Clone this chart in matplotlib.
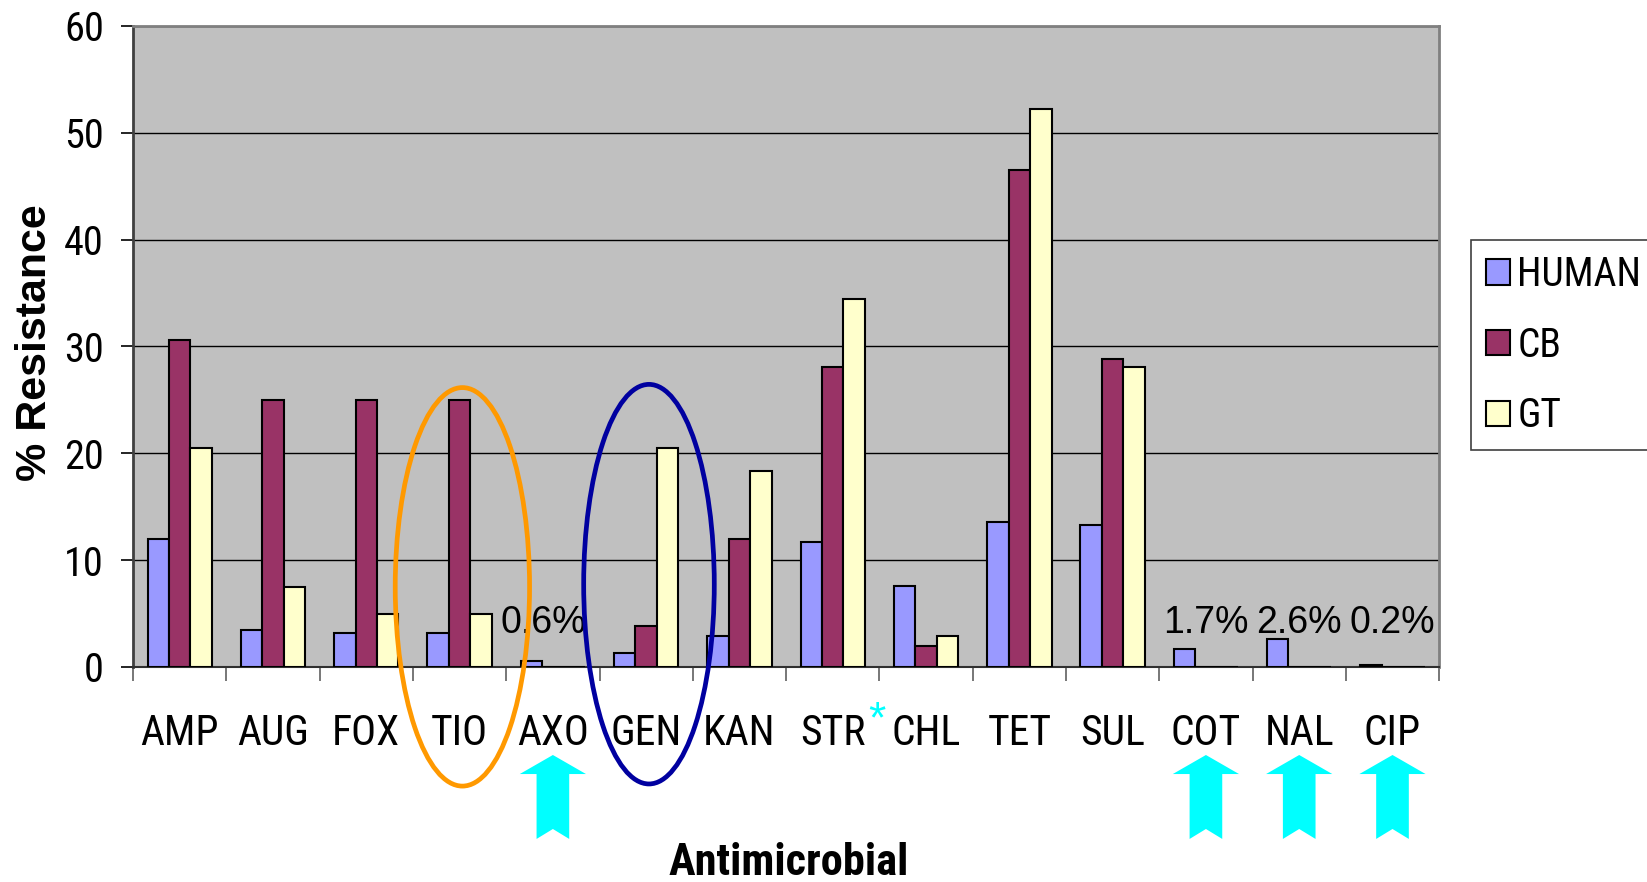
import matplotlib
matplotlib.use("Agg")
import matplotlib.pyplot as plt
import matplotlib.transforms as mtransforms
import matplotlib.font_manager as fm
from matplotlib.patches import Ellipse, Polygon
import numpy as np

# % resistance per antimicrobial, by source
drugs = ["AMP", "AUG", "FOX", "TIO", "AXO", "GEN", "KAN", "STR", "CHL", "TET", "SUL", "COT", "NAL", "CIP"]
human = [12.0, 3.5, 3.2, 3.2, 0.6, 1.3, 2.9, 11.7, 7.6, 13.6, 13.3, 1.7, 2.6, 0.2]
cb = [30.6, 25.0, 25.0, 25.0, 0.0, 3.8, 12.0, 28.1, 2.0, 46.5, 28.8, 0.0, 0.0, 0.0]
gt = [20.5, 7.5, 5.0, 5.0, 0.0, 20.5, 18.3, 34.4, 2.9, 52.2, 28.1, 0.0, 0.0, 0.0]

# human-only drugs get a text label and an arrow underneath
flagged = ["AXO", "COT", "NAL", "CIP"]
flag_labels = ["0.6%", "1.7%", "2.6%", "0.2%"]

# use a narrow sans if one is around, otherwise plain Liberation Sans a bit smaller
have = {f.name for f in fm.fontManager.ttflist}
narrow = next((n for n in ["Liberation Sans Narrow", "Arial Narrow", "Roboto Condensed",
                           "Noto Sans Condensed", "Open Sans Condensed"] if n in have), None)
REG = ["Liberation Sans", "DejaVu Sans"]
if narrow:
    NARROW = [narrow] + REG
    sz_x, sz_y, sz_leg, sz_xl = 30, 29, 28.5, 32
else:
    NARROW = REG
    sz_x, sz_y, sz_leg, sz_xl = 27, 26.5, 26, 28

fig = plt.figure(figsize=(16.47, 8.82), dpi=100)
ax = fig.add_axes([0.0808, 0.2438, 0.7930, 0.7268])
ax.set_facecolor("#C0C0C0")

x = np.arange(len(drugs))
w = 0.23
b1 = ax.bar(x - w, human, w, color="#9999FF", edgecolor="black", linewidth=1.5, label="HUMAN", zorder=3)
b2 = ax.bar(x, cb, w, color="#993366", edgecolor="black", linewidth=1.5, label="CB", zorder=3)
b3 = ax.bar(x + w, gt, w, color="#FFFFCC", edgecolor="black", linewidth=1.5, label="GT", zorder=3)

ax.set_xlim(-0.5, len(drugs) - 0.5)
ax.set_ylim(0, 60)
ax.set_yticks(np.arange(0, 61, 10))
ax.yaxis.grid(True, color="black", linewidth=1.0, zorder=1)
ax.set_axisbelow(True)

for s in ["top", "right"]:
    ax.spines[s].set_color("#808080")
    ax.spines[s].set_linewidth(2)
ax.spines["left"].set_color("#404040")
ax.spines["left"].set_linewidth(2)
ax.spines["bottom"].set_color("#303030")
ax.spines["bottom"].set_linewidth(1.5)

# labels at centres, tick marks at category boundaries
ax.set_xticks(x)
ax.set_xticks(np.arange(-0.5, len(drugs), 1), minor=True)
ax.tick_params(axis="x", which="major", length=0, pad=33)
ax.tick_params(axis="x", which="minor", length=10, width=1.2, color="#606060")
ax.set_xticklabels(drugs, fontsize=sz_x, family=NARROW)
ax.tick_params(axis="y", length=9, width=1.2, pad=12)
for t in ax.get_yticklabels():
    t.set_fontsize(sz_y)
    t.set_family(NARROW)

ax.set_ylabel("% Resistance", fontsize=31, fontweight="bold", family=REG)
ax.yaxis.set_label_coords(-0.060, 0.506)
fig.text(0.479, 0.021, "Antimicrobial", fontsize=sz_xl, fontweight="bold", family=NARROW,
         ha="center", va="center")

# percentages for the small human-only bars
for d, lab in zip(flagged, flag_labels):
    i = drugs.index(d)
    dx = -0.1 if d == "AXO" else 0.0
    ax.text(i + dx, 4.1, lab, fontsize=27, family=REG, ha="center", va="center", zorder=5)

# circles around TIO and GEN
ax.add_patch(Ellipse((3.03, 7.5), 1.44, 37.3, fill=False, edgecolor="#FF9900", linewidth=3.4,
                     clip_on=False, zorder=6))
ax.add_patch(Ellipse((5.03, 7.75), 1.40, 37.4, fill=False, edgecolor="#0000A0", linewidth=3.4,
                     clip_on=False, zorder=6))

# cyan up-arrows under the flagged drugs (x in data, y in figure fraction)
trans = mtransforms.blended_transform_factory(ax.transData, fig.transFigure)
shape = [(0, 0.144), (0.355, 0.1224), (0.175, 0.1224), (0.175, 0.0488), (0, 0.0601),
         (-0.175, 0.0488), (-0.175, 0.1224), (-0.355, 0.1224)]
for d in flagged:
    i = drugs.index(d)
    pts = [(i + px, py) for px, py in shape]
    fig.patches.append(Polygon(pts, closed=True, facecolor="#00FFFF", edgecolor="none",
                               transform=trans, figure=fig))

# asterisk after STR
fig.text(drugs.index("STR") + 0.47, 0.183, "*", transform=trans, fontsize=32, color="#00FFFF",
         ha="center", va="center", family=REG)

leg = ax.legend(handles=[b1, b2, b3], loc="upper left", bbox_to_anchor=(0.893, 0.728),
                bbox_transform=fig.transFigure, prop={"family": NARROW, "size": sz_leg},
                handlelength=0.6, handleheight=0.6, handletextpad=0.2, labelspacing=0.8,
                borderpad=0.38, borderaxespad=0, fancybox=False, framealpha=1,
                edgecolor="#404040")
leg.get_frame().set_linewidth(1.2)

fig.savefig("out.png", dpi=100)
